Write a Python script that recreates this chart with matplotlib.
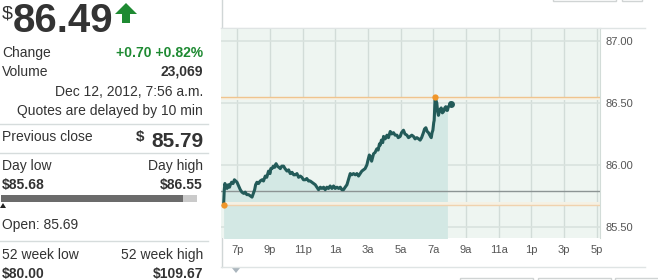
import matplotlib
matplotlib.use("Agg")
import matplotlib.pyplot as plt
from matplotlib.patches import Polygon, Rectangle

plt.rcParams["font.family"] = ["Liberation Sans", "DejaVu Sans"]

# ---------------------------------------------------------------------------
# Data (hours after 6 p.m., price in $)
# ---------------------------------------------------------------------------
hours = [
    0.16, 0.20, 0.24, 0.30, 0.37, 0.45, 0.52, 0.57, 0.65, 0.74, 0.82, 0.90, 0.98,
    1.08, 1.18, 1.28, 1.39, 1.48, 1.58, 1.69, 1.80, 1.90, 1.98, 2.06, 2.12, 2.20,
    2.30, 2.40, 2.51, 2.60, 2.71, 2.80, 2.91, 3.00, 3.05, 3.12, 3.20, 3.28, 3.37,
    3.45, 3.55, 3.63, 3.72, 3.83, 3.92, 4.04, 4.14, 4.24, 4.35, 4.45, 4.55, 4.65,
    4.75, 4.85, 4.95, 5.05, 5.16, 5.25, 5.36, 5.46, 5.56, 5.66, 5.77, 5.87, 5.97,
    6.08, 6.18, 6.28, 6.38, 6.48, 6.58, 6.68, 6.79, 6.89, 6.99, 7.10, 7.20, 7.30,
    7.40, 7.50, 7.60, 7.71, 7.80, 7.91, 8.00, 8.11, 8.22, 8.32, 8.42, 8.52, 8.62,
    8.72, 8.82, 8.93, 9.00, 9.08, 9.13, 9.22, 9.34, 9.43, 9.54, 9.62, 9.70, 9.75,
    9.82, 9.90, 9.95, 10.05, 10.16, 10.25, 10.36, 10.45, 10.56, 10.66, 10.77,
    10.85, 10.97, 11.05, 11.17, 11.26, 11.38, 11.48, 11.58, 11.68, 11.78, 11.88,
    11.99, 12.10, 12.19, 12.28, 12.39, 12.46, 12.54, 12.62, 12.70, 12.78, 12.87,
    12.92, 12.97, 13.02, 13.05, 13.08, 13.11, 13.16, 13.21, 13.26, 13.31, 13.38,
    13.48, 13.55, 13.62, 13.70, 13.76, 13.82, 13.86, 13.92, 13.98, 14.04, 14.09,
]
prices = [
    85.68, 85.80, 85.85, 85.82, 85.81, 85.84, 85.82, 85.84, 85.86, 85.85, 85.88, 85.87, 85.86,
    85.83, 85.80, 85.78, 85.77, 85.78, 85.76, 85.76, 85.75, 85.74, 85.77, 85.80, 85.84, 85.86,
    85.85, 85.87, 85.88, 85.87, 85.91, 85.90, 85.95, 85.93, 85.97, 85.97, 85.99, 85.98, 86.01,
    85.99, 85.98, 85.97, 85.99, 85.99, 85.97, 85.95, 85.96, 85.93, 85.94, 85.92, 85.92, 85.93,
    85.90, 85.91, 85.90, 85.88, 85.88, 85.89, 85.87, 85.87, 85.86, 85.85, 85.84, 85.82, 85.80,
    85.82, 85.81, 85.82, 85.80, 85.82, 85.81, 85.83, 85.81, 85.83, 85.81, 85.82, 85.81, 85.82,
    85.80, 85.80, 85.82, 85.84, 85.88, 85.93, 85.92, 85.93, 85.92, 85.93, 85.91, 85.93, 85.95,
    85.96, 85.97, 86.00, 86.04, 86.08, 86.07, 86.03, 86.09, 86.10, 86.13, 86.12, 86.17, 86.16,
    86.20, 86.18, 86.23, 86.21, 86.24, 86.22, 86.27, 86.25, 86.26, 86.24, 86.24,
    86.22, 86.23, 86.26, 86.28, 86.25, 86.24, 86.22, 86.23, 86.24, 86.23, 86.21,
    86.22, 86.21, 86.20, 86.22, 86.26, 86.29, 86.30, 86.27, 86.26, 86.24, 86.22,
    86.26, 86.28, 86.34, 86.36, 86.45, 86.55, 86.52, 86.50, 86.43, 86.40, 86.44,
    86.46, 86.42, 86.43, 86.46, 86.47, 86.44, 86.44, 86.47, 86.48, 86.50, 86.49,
]
fill_end = 13.86

prev_close = 85.79
day_low = 85.68
day_high = 86.55
open_price = 85.69

x_ticks = [1, 3, 5, 7, 9, 11, 13, 15, 17, 19, 21, 23]
x_labels = ["7p", "9p", "11p", "1a", "3a", "5a", "7a", "9a", "11a", "1p", "3p", "5p"]
y_ticks = [85.5, 86.0, 86.5, 87.0]

# ---------------------------------------------------------------------------
W, H = 658, 280
fig = plt.figure(figsize=(W / 100, H / 100), dpi=100)
fig.patch.set_facecolor("white")

# pixel-space overlay for the quote panel and frame
bg = fig.add_axes([0, 0, 1, 1])
bg.set_xlim(0, W)
bg.set_ylim(H, 0)
bg.axis("off")

DARK = "#333333"
GREEN = "#1e8a32"
SEP = "#d6dcdc"
RX = 203

# big price
bg.text(2, 19, "$", fontsize=14, color=DARK, ha="left", va="baseline")
bg.text(13, 32, f"{86.49:.2f}", fontsize=29, fontweight="bold", color=DARK,
        ha="left", va="baseline")
bg.add_patch(Polygon([(126, 3), (137, 14), (130, 14), (130, 23), (122, 23),
                      (122, 14), (115, 14)], closed=True, color=GREEN, lw=0))

bg.text(2, 57, "Change", fontsize=10, color=DARK, va="baseline")
bg.text(RX, 57, "+0.70 +0.82%", fontsize=10, fontweight="bold", color=GREEN,
        ha="right", va="baseline")
bg.text(2, 76, "Volume", fontsize=10, color=DARK, va="baseline")
bg.text(RX, 76, "23,069", fontsize=10, fontweight="bold", color=DARK,
        ha="right", va="baseline")
bg.text(RX, 96, "Dec 12, 2012, 7:56 a.m.", fontsize=10, color=DARK,
        ha="right", va="baseline")
bg.text(RX, 115, "Quotes are delayed by 10 min", fontsize=10, color=DARK,
        ha="right", va="baseline")
bg.plot([0, 208], [124, 124], color=SEP, lw=1)

bg.text(2, 141, "Previous close", fontsize=10, color=DARK, va="baseline")
bg.text(144, 141, "$", fontsize=11, fontweight="bold", color=DARK,
        ha="right", va="baseline")
bg.text(RX, 147, f"{prev_close:.2f}", fontsize=15, fontweight="bold", color=DARK,
        ha="right", va="baseline")
bg.plot([0, 208], [153, 153], color=SEP, lw=1)

bg.text(2, 170, "Day low", fontsize=10, color=DARK, va="baseline")
bg.text(RX, 170, "Day high", fontsize=10, color=DARK, ha="right", va="baseline")
bg.text(2, 189, f"${day_low:.2f}", fontsize=10, fontweight="bold", color=DARK,
        va="baseline")
bg.text(RX, 189, f"${day_high:.2f}", fontsize=10, fontweight="bold", color=DARK,
        ha="right", va="baseline")
bg.add_patch(Rectangle((1, 195), 182, 7, color="#6b6b6b", lw=0))
bg.add_patch(Rectangle((183, 195), 14, 7, color="#cacaca", lw=0))
bg.add_patch(Polygon([(3, 203), (6, 208), (0, 208)], closed=True, color="#222222", lw=0))
bg.text(2, 229, f"Open: {open_price:.2f}", fontsize=10, color=DARK, va="baseline")
bg.plot([0, 208], [241, 241], color=SEP, lw=1)

bg.text(2, 259, "52 week low", fontsize=10, color=DARK, va="baseline")
bg.text(RX, 259, "52 week high", fontsize=10, color=DARK, ha="right", va="baseline")
bg.text(2, 278, "$80.00", fontsize=10, fontweight="bold", color=DARK, va="baseline")
bg.text(RX, 278, "$109.67", fontsize=10, fontweight="bold", color=DARK,
        ha="right", va="baseline")

# frame around chart area
bg.plot([221.5, 221.5], [0, 267], color="#d0d6d6", lw=1)
bg.plot([221, 645], [28, 28], color="#dfe4e4", lw=1)
bg.plot([221, 645], [267, 267], color="#dfe4e4", lw=1)
bg.add_patch(Polygon([(232, 268), (240, 268), (236, 273)], closed=True,
                     color="#aab5bd", lw=0))
for x0, x1 in [(460, 533), (538, 611), (615, 660)]:
    bg.add_patch(Rectangle((x0, 277.5), x1 - x0, 10, fill=False,
                           ec="#d0d4d4", lw=1))
for x0, x1 in [(553, 616), (622, 642)]:
    bg.add_patch(Rectangle((x0, -10), x1 - x0, 11, fill=False,
                           ec="#d0d4d4", lw=1))

# ---------------------------------------------------------------------------
# Chart
# ---------------------------------------------------------------------------
ax = fig.add_axes([221 / W, 1 - 238 / H, (600 - 221) / W, (238 - 28) / H])
ax.set_facecolor("#eef5f1")
ax.set_xlim(0, 23.2)
ax.set_ylim(85.41, 87.105)

for x in x_ticks:
    ax.axvline(x, color="#d2dcd8", lw=1, zorder=1)
for y in y_ticks:
    ax.axhline(y, color="#d9e2de", lw=1.2, zorder=1)

fill_t = [t for t in hours if t <= fill_end]
fill_p = prices[:len(fill_t)]
ax.fill_between(fill_t, fill_p, 85.0, color="#d3e8e4", lw=0, zorder=2)

ax.axhspan(day_high - 0.03, day_high, color="#f6f1e4", lw=0, zorder=2)
ax.axhspan(day_low, day_low + 0.02, color="#f5f1e4", lw=0, zorder=2)
ax.axhline(day_high, color="#f0c48e", lw=1, zorder=3)
ax.axhline(day_low, color="#f0d2ae", lw=1, zorder=3)
ax.axhline(prev_close, color="#8c9494", lw=1, zorder=3)

ax.plot(hours, prices, color="#235b59", lw=2.2, solid_joinstyle="round", zorder=4)
i_hi = prices.index(max(prices))
ax.plot([hours[0], hours[i_hi]], [prices[0], prices[i_hi]], "o",
        color="#f0962a", ms=4.5, mec="none", zorder=5)
ax.plot(hours[-1], prices[-1], "o", color="#235b59", ms=5, mec="none", zorder=5)

ax.set_xticks(x_ticks)
ax.set_xticklabels(x_labels)
ax.set_yticks(y_ticks)
ax.set_yticklabels([f"{v:.2f}" for v in y_ticks])
ax.yaxis.tick_right()
ax.tick_params(length=0, labelsize=8, labelcolor="#555555")
ax.tick_params(axis="x", pad=5)
ax.tick_params(axis="y", pad=4)
for s in ["left", "bottom"]:
    ax.spines[s].set_visible(False)
ax.spines["top"].set_color("#dfe4e4")
ax.spines["right"].set_color("#d2dcd8")

fig.savefig("out.png", dpi=100, facecolor="white")
